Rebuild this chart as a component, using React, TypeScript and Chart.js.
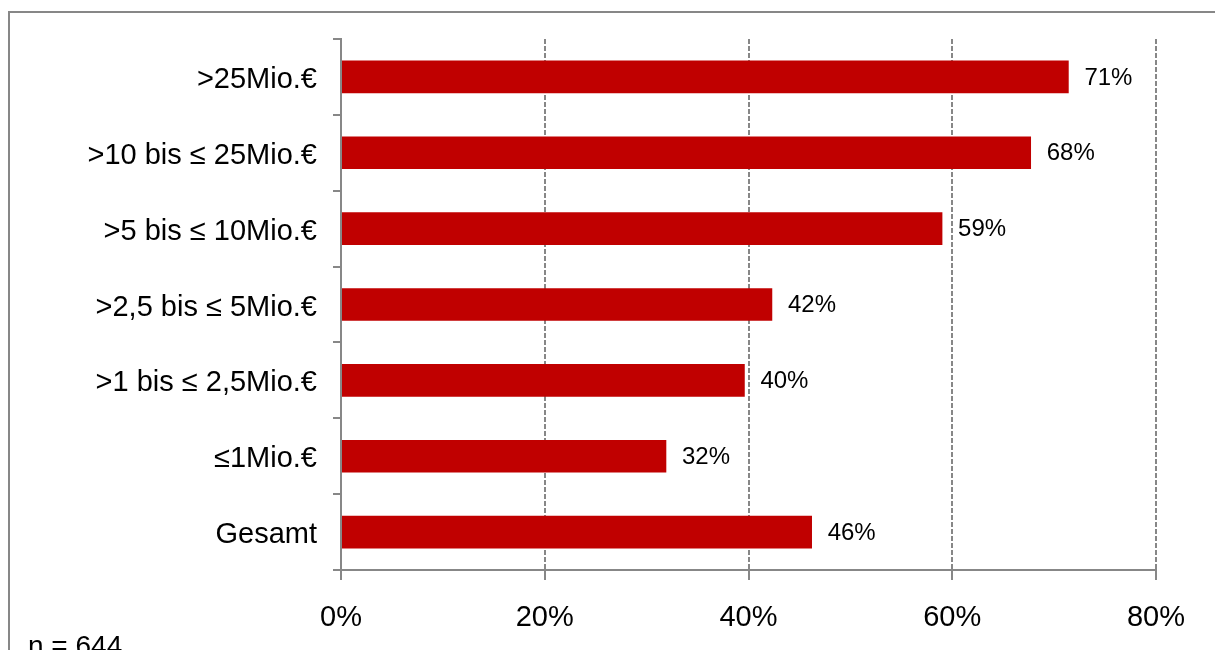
import React, { useEffect, useRef } from "react";
import { Chart, registerables } from "chart.js";

Chart.register(...registerables);

const categories = [
  ">25Mio.€",
  ">10 bis ≤ 25Mio.€",
  ">5 bis ≤ 10Mio.€",
  ">2,5 bis ≤ 5Mio.€",
  ">1 bis ≤ 2,5Mio.€",
  "≤1Mio.€",
  "Gesamt",
];
const values = [71.4, 67.7, 59.0, 42.3, 39.6, 31.9, 46.2];
const valueLabels = ["71%", "68%", "59%", "42%", "40%", "32%", "46%"];
const xTicks = [0, 20, 40, 60, 80];
const footnote = "n = 644";

const FONT = "'Liberation Sans', Arial, sans-serif";
const GRAY = "#878787";

export default function App() {
  const ref = useRef<HTMLCanvasElement | null>(null);

  useEffect(() => {
    const canvas = ref.current;
    if (!canvas) return;

    const decor = {
      id: "decor",
      beforeDraw(chart: any) {
        const ctx = chart.ctx;
        ctx.save();
        ctx.strokeStyle = GRAY;
        ctx.lineWidth = 2;
        ctx.strokeRect(9, 12, 1400, 800);
        ctx.restore();
      },
      afterDraw(chart: any) {
        const ctx = chart.ctx;
        const yScale = chart.scales.y;
        const xScale = chart.scales.x;
        ctx.save();
        // solid y axis line drawn over dashed 0% gridline
        ctx.strokeStyle = GRAY;
        ctx.lineWidth = 2;
        ctx.beginPath();
        ctx.moveTo(xScale.left, yScale.top);
        ctx.lineTo(xScale.left, yScale.bottom);
        ctx.stroke();
        ctx.restore();
      },
      afterDatasetsDraw(chart: any) {
        const ctx = chart.ctx;
        const meta = chart.getDatasetMeta(0);
        ctx.save();
        ctx.fillStyle = "#000";
        ctx.font = `24px ${FONT}`;
        ctx.textAlign = "left";
        ctx.textBaseline = "middle";
        meta.data.forEach((bar: any, i: number) => {
          ctx.fillText(valueLabels[i], bar.x + 16, bar.y + 1);
        });
        ctx.font = `28px ${FONT}`;
        ctx.textBaseline = "alphabetic";
        ctx.fillText(footnote, 28, 655);
        ctx.restore();
      },
    };

    const chart = new Chart(canvas, {
      type: "bar",
      data: {
        labels: categories,
        datasets: [
          {
            data: values,
            backgroundColor: "#C00000",
            borderWidth: 0,
            barThickness: 32,
          },
        ],
      },
      options: {
        indexAxis: "y",
        animation: false,
        responsive: false,
        maintainAspectRatio: false,
        devicePixelRatio: 1,
        layout: { padding: { left: 0, top: 39, right: 59, bottom: 0 } },
        plugins: {
          legend: { display: false },
          tooltip: { enabled: false },
        },
        scales: {
          x: {
            min: 0,
            max: 80,
            afterBuildTicks: (scale: any) => {
              scale.ticks = xTicks.map((v) => ({ value: v }));
            },
            afterFit: (scale: any) => {
              scale.height = 80;
            },
            ticks: {
              callback: (v: any) => `${v}%`,
              color: "#000",
              font: { family: FONT, size: 29 },
              padding: 21,
            },
            grid: {
              color: GRAY,
              lineWidth: 2,
              drawTicks: true,
              tickLength: 10,
              tickColor: GRAY,
              tickBorderDash: [],
            },
            border: { display: true, color: GRAY, width: 2, dash: [5, 2] },
          },
          y: {
            offset: true,
            afterFit: (scale: any) => {
              scale.width = 341;
            },
            ticks: {
              color: "#000",
              font: { family: FONT, size: 29 },
              padding: 16,
              labelOffset: 3,
            },
            grid: {
              offset: true,
              drawOnChartArea: false,
              drawTicks: true,
              tickLength: 8,
              color: GRAY,
              lineWidth: 2,
            },
            border: { display: true, color: GRAY, width: 2 },
          },
        },
      },
      plugins: [decor],
    } as any);

    return () => chart.destroy();
  }, []);

  return (
    <div style={{ position: "fixed", left: 0, top: 0, width: 1215, height: 650, background: "#fff" }}>
      <canvas ref={ref} width={1215} height={650} style={{ width: 1215, height: 650 }} />
    </div>
  );
}
